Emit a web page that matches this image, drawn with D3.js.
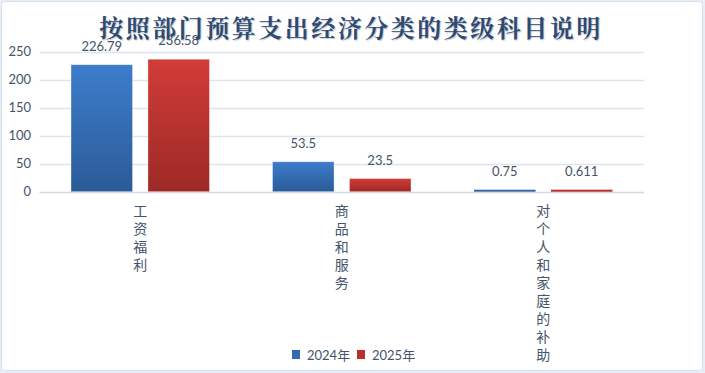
<!DOCTYPE html>
<html><head><meta charset="utf-8">
<script src="https://cdn.jsdelivr.net/npm/d3@7"></script>
<style>html,body{margin:0;padding:0;background:#fff;}svg{display:block;}</style>
</head><body>
<script>
const title = "按照部门预算支出经济分类的类级科目说明";
const categories = ["工资福利", "商品和服务", "对个人和家庭的补助"];
const seriesNames = ["2024年", "2025年"];
const values2024 = [226.79, 53.5, 0.75];
const values2025 = [236.58, 23.5, 0.611];
const yTicks = [0, 50, 100, 150, 200, 250];

const W = 705, H = 373;
const svg = d3.select("body").append("svg").attr("width", W).attr("height", H);
const defs = svg.append("defs");
const gradB = defs.append("linearGradient").attr("id","gB").attr("x1",0).attr("y1",0).attr("x2",0).attr("y2",1);
gradB.append("stop").attr("offset","0%").attr("stop-color","#3D7DCB");
gradB.append("stop").attr("offset","100%").attr("stop-color","#2B5B98");
const gradR = defs.append("linearGradient").attr("id","gR").attr("x1",0).attr("y1",0).attr("x2",0).attr("y2",1);
gradR.append("stop").attr("offset","0%").attr("stop-color","#D23C38");
gradR.append("stop").attr("offset","100%").attr("stop-color","#9D2926");

// outer background / border
svg.append("rect").attr("x",0).attr("y",0).attr("width",W).attr("height",H).attr("fill","#E8EFF6");
svg.append("rect").attr("x",1.5).attr("y",1.5).attr("width",W-4).attr("height",H-4).attr("rx",3)
  .attr("fill","#fff").attr("stroke","#D5DFEA").attr("stroke-width",1);

const x0 = d3.scaleBand().domain(categories).range([39.5, 644]).paddingInner(0).paddingOuter(0);
const y = d3.scaleLinear().domain([0, 250]).range([191.7, 51.7]);
const x1 = d3.scaleBand().domain(seriesNames).range([31.5, 170]).paddingInner(0.2).paddingOuter(0);

// grid
svg.append("g").selectAll("line").data(yTicks).join("line")
  .attr("x1", 39.5).attr("x2", 644)
  .attr("y1", d => Math.round(y(d)) + 0.5).attr("y2", d => Math.round(y(d)) + 0.5)
  .attr("stroke", d => d === 0 ? "#D0DAE5" : "#DCE4EE").attr("stroke-width", 1.3);

// y axis labels
const yAxis = d3.axisLeft(y).tickValues(yTicks).tickSize(0).tickPadding(0);
const gy = svg.append("g").attr("transform","translate(31,0)").call(yAxis);
gy.select(".domain").remove();
gy.selectAll("text").attr("font-family","Lato, 'Open Sans', sans-serif").attr("font-size","13px").attr("fill","#44546A");

const series = [
  {name: seriesNames[0], vals: values2024, fill: "url(#gB)", solid: "#3566AA"},
  {name: seriesNames[1], vals: values2025, fill: "url(#gR)", solid: "#B5302D"}
];

const gBars = svg.append("g");
series.forEach(s => {
  categories.forEach((c, i) => {
    const v = s.vals[i];
    const bx = x0(c) + x1(s.name);
    const top = y(v);
    const h = Math.max(y(0) - top, 2);
    const tiny = h < 4;
    gBars.append("rect").attr("x", bx).attr("y", y(0) - h).attr("width", x1.bandwidth()).attr("height", h)
      .attr("fill", tiny ? s.solid : s.fill)
      .attr("stroke", tiny ? "none" : "rgba(255,255,255,0.45)").attr("stroke-width", 0.8);
    gBars.append("text").attr("x", bx + x1.bandwidth()/2).attr("y", y(0) - h - 14)
      .attr("text-anchor","middle").attr("font-family","Lato, 'Open Sans', sans-serif")
      .attr("font-size","13px").attr("fill","#44546A").text(String(v));
  });
});

// category labels (vertical text)
const gCat = svg.append("g").attr("font-family","'Noto Sans CJK SC', sans-serif")
  .attr("font-size","14px").attr("fill","#44546A");
categories.forEach(c => {
  const cx = x0(c) + x0.bandwidth()/2;
  gCat.append("text").attr("x", cx).attr("y", 204)
    .style("writing-mode","vertical-rl").style("text-orientation","upright")
    .attr("letter-spacing","4px")
    .text(c);
});

// title
svg.append("text").attr("x", 351).attr("y", 37).attr("text-anchor","middle")
  .attr("font-family","'Noto Serif CJK SC','Noto Sans CJK SC', serif").attr("font-weight","bold")
  .attr("font-size","24px").attr("letter-spacing","2.5px").attr("fill","#2E4A70")
  .style("text-shadow","1px 1px 1px rgba(60,90,130,0.35)")
  .text(title);

// legend
const lg = svg.append("g").attr("font-family","Lato, 'Open Sans', 'Noto Sans CJK SC', sans-serif")
  .attr("font-size","13px").attr("fill","#44546A");
const legendItems = [
  {name: seriesNames[0], color: "#3468B0", x: 292},
  {name: seriesNames[1], color: "#B8312E", x: 357}
];
legendItems.forEach(it => {
  lg.append("rect").attr("x", it.x).attr("y", 350).attr("width", 8).attr("height", 9).attr("fill", it.color);
  lg.append("text").attr("x", it.x + 15).attr("y", 359.5).text(it.name);
});
</script>
</body></html>
